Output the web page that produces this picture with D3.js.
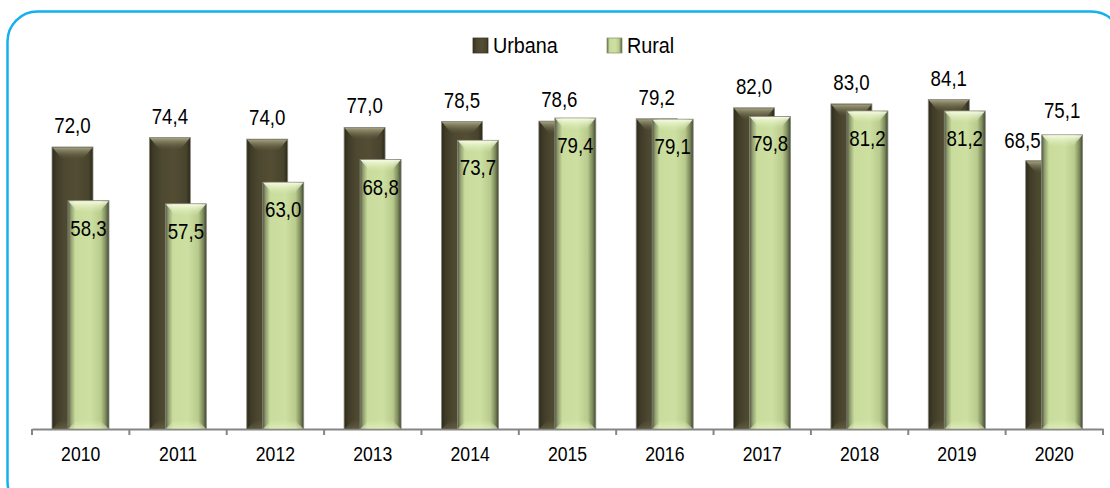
<!DOCTYPE html>
<html>
<head>
<meta charset="utf-8">
<script src="https://cdn.jsdelivr.net/npm/d3@7"></script>
<style>
  body { margin: 0; background: #fff; }
  svg { display: block; font-family: "Liberation Sans", Arial, sans-serif; }
</style>
</head>
<body>
<div class="chart"></div>
<script>
// DATA
const years = ["2010", "2011", "2012", "2013", "2014", "2015", "2016", "2017", "2018", "2019", "2020"];
const urbana = [72.0, 74.4, 74.0, 77.0, 78.5, 78.6, 79.2, 82.0, 83.0, 84.1, 68.5];
const rural = [58.3, 57.5, 63.0, 68.8, 73.7, 79.4, 79.1, 79.8, 81.2, 81.2, 75.1];
const seriesNames = ["Urbana", "Rural"];

const W = 1110, H = 488;
const fmt = d3.formatLocale({decimal: ",", thousands: ".", grouping: [3], currency: ["", ""]}).format(".1f");

const svg = d3.select(".chart").append("svg")
    .attr("width", W)
    .attr("height", H);

// gradients
const defs = svg.append("defs");
function hGrad(id, stops){
    const g = defs.append("linearGradient").attr("id", id)
        .attr("x1", "0%").attr("x2", "100%").attr("y1", "0%").attr("y2", "0%");
    stops.forEach(s => g.append("stop").attr("offset", s[0]).attr("stop-color", s[1]));
}
function vGrad(id, stops){
    const g = defs.append("linearGradient").attr("id", id)
        .attr("x1", "0%").attr("x2", "0%").attr("y1", "0%").attr("y2", "100%");
    stops.forEach(s => g.append("stop").attr("offset", s[0]).attr("stop-color", s[1]).attr("stop-opacity", s[2]));
}
hGrad("gUrb", [["0%", "#2c2a1b"], ["10%", "#3f3b27"], ["30%", "#4d4830"], ["60%", "#534d34"], ["90%", "#48432d"], ["100%", "#2a2819"]]);
hGrad("gRur", [["0%", "#4f5538"], ["7%", "#8f9c70"], ["18%", "#c9dc9c"], ["55%", "#cde0a2"], ["80%", "#b9cb8c"], ["92%", "#7d8a5c"], ["100%", "#3f4530"]]);
vGrad("capUrb", [["0%", "#a3a280", 1], ["100%", "#6a6648", 0]]);
vGrad("capRur", [["0%", "#f6fbe2", 1], ["100%", "#dcebb4", 0]]);
vGrad("botUrb", [["0%", "#6a6648", 0], ["100%", "#6a6648", 0.6]]);
vGrad("botRur", [["0%", "#e4f0c0", 0], ["100%", "#e4f0c0", 0.7]]);

// frame
svg.append("rect")
    .attr("x", 7.5).attr("y", 11.5)
    .attr("width", 1114).attr("height", 500)
    .attr("rx", 30).attr("ry", 30)
    .attr("fill", "none")
    .attr("stroke", "#12b0ef")
    .attr("stroke-width", 2.5);

// SCALES
const x = d3.scaleBand().domain(years).range([32, 1103]).padding(0);
const y = d3.scaleLinear().domain([0, 100]).range([429, 37.3]);
const bw = 41;
const offU = 20, offR = 36;

// axis
const xAxis = d3.axisBottom(x).tickSize(0).tickPadding(17);
const axG = svg.append("g")
    .attr("class", "axis x-axis")
    .attr("transform", `translate(0, ${y(0)})`)
    .call(xAxis);
axG.select(".domain").attr("stroke", "#858585").attr("stroke-width", 2);
axG.selectAll(".tick text")
    .attr("font-size", 21)
    .attr("fill", "#000")
    .attr("font-family", "Liberation Sans, Arial, sans-serif")
    .attr("transform", "scale(0.84,1)");

const bounds = years.map(d => x(d)).concat([x.range()[1]]);
svg.append("g").selectAll("line")
    .data(bounds)
    .enter()
    .append("line")
    .attr("x1", d => d).attr("x2", d => d)
    .attr("y1", y(0)).attr("y2", y(0) + 6)
    .attr("stroke", "#858585")
    .attr("stroke-width", 2);

// BARS
function drawBar(g, bx, val, kind){
    const top = y(val), h = y(0) - top;
    g.append("rect")
        .attr("x", bx).attr("y", top)
        .attr("width", bw).attr("height", h)
        .attr("fill", kind == "u" ? "url(#gUrb)" : "url(#gRur)")
        .attr("stroke", "#8c8c84")
        .attr("stroke-width", 0.8);
    // top bevel
    g.append("path")
        .attr("d", `M${bx + 0.5},${top + 0.5} L${bx + bw - 0.5},${top + 0.5} L${bx + bw - 10},${top + 12} L${bx + 10},${top + 12} Z`)
        .attr("fill", kind == "u" ? "url(#capUrb)" : "url(#capRur)");
    // bottom bevel
    g.append("path")
        .attr("d", `M${bx + 0.5},${y(0) - 0.5} L${bx + bw - 0.5},${y(0) - 0.5} L${bx + bw - 9},${y(0) - 9} L${bx + 9},${y(0) - 9} Z`)
        .attr("fill", kind == "u" ? "url(#botUrb)" : "url(#botRur)");
}

const barsG = svg.append("g").attr("class", "bars");
years.forEach((yr, i) => {
    const g = barsG.append("g");
    drawBar(g, x(yr) + offU, urbana[i], "u");
    drawBar(g, x(yr) + offR, rural[i], "r");
});

// LABELS
const lab = svg.append("g").attr("class", "labels")
    .attr("font-size", 22.5)
    .attr("fill", "#000");

function addLabel(cx, cy, txt, anchor){
    lab.append("text")
        .attr("transform", `translate(${cx},${cy}) scale(0.83,1)`)
        .attr("text-anchor", anchor)
        .text(txt);
}

years.forEach((yr, i) => {
    const ruralAbove = rural[i] - urbana[i] > 3;
    if (ruralAbove){
        addLabel(x(yr) + offR - 1, y(urbana[i]) - 13, fmt(urbana[i]), "end");
        addLabel(x(yr) + offR + bw / 2, y(rural[i]) - 17, fmt(rural[i]), "middle");
    }
    else{
        addLabel(x(yr) + offU + bw / 2, y(urbana[i]) - 14, fmt(urbana[i]), "middle");
        addLabel(x(yr) + offR + bw / 2, y(rural[i]) + 35, fmt(rural[i]), "middle");
    }
});

// LEGEND
const legX = [473, 607];
const leg = svg.append("g").attr("class", "legend");
seriesNames.forEach((s, i) => {
    leg.append("rect")
        .attr("x", legX[i]).attr("y", 38)
        .attr("width", 15).attr("height", 15)
        .attr("fill", i == 0 ? "url(#gUrb)" : "url(#gRur)")
        .attr("stroke", i == 0 ? "#3a3826" : "#8e9870")
        .attr("stroke-width", 0.8);
    leg.append("text")
        .attr("transform", `translate(${legX[i] + 20},53) scale(0.9,1)`)
        .attr("font-size", 22)
        .text(s);
});
</script>
</body>
</html>
